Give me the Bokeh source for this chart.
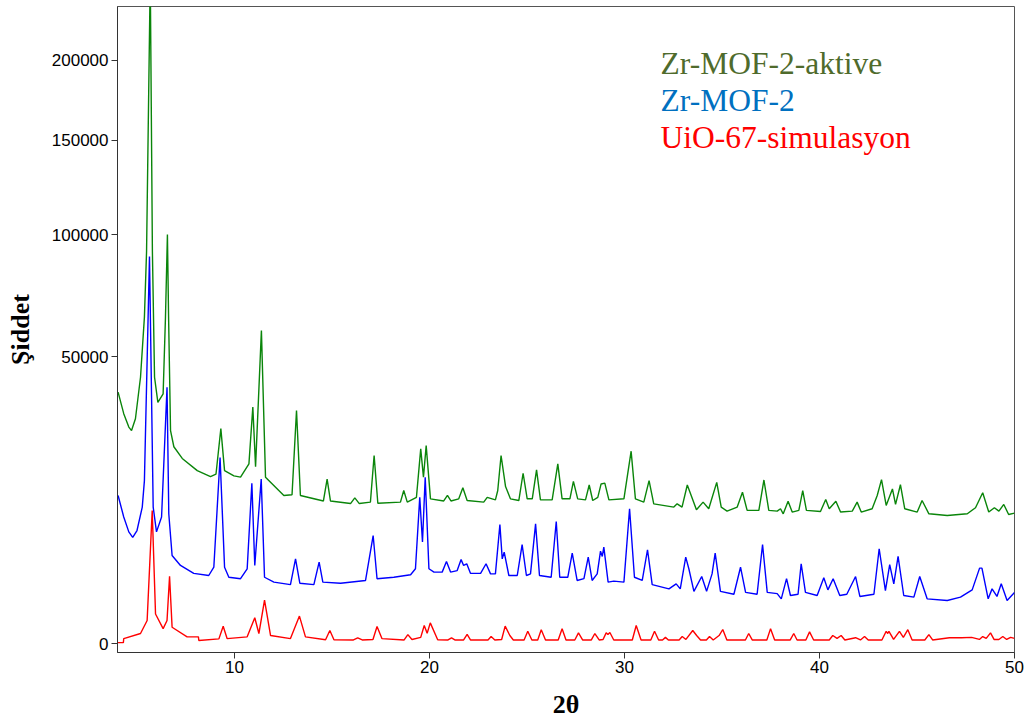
import numpy as np
from bokeh.plotting import figure
from bokeh.models import Range1d, FixedTicker, CustomJSTickFormatter, Label
from bokeh.embed import file_html
from bokeh.resources import INLINE

# power-law (≈ square-root) intensity axis used by the original chart
POW = 0.512

# ---------------- data (2θ, intensity) ----------------
aktive_x = [4.03, 4.32, 4.58, 4.72, 4.92, 5.18, 5.38, 5.49, 5.68, 5.79, 5.90, 6.07, 6.34, 6.46, 6.56,
            6.62, 6.72, 6.89, 7.32, 8.09, 8.77, 9.05, 9.30, 9.49, 9.97, 10.31, 10.74, 10.94, 11.08,
            11.38, 11.59, 12.53, 12.95, 13.18, 13.38, 14.56, 14.75, 14.92, 15.95, 16.17, 16.40,
            16.97, 17.16, 17.35, 18.51, 18.68, 18.86, 19.33, 19.55, 19.69, 19.83, 20.05, 20.73,
            20.92, 21.10, 21.50, 21.71, 21.93, 22.78, 22.96, 23.38, 23.50, 23.67, 23.90, 24.15,
            24.58, 24.80, 25.01, 25.27, 25.49, 25.69, 26.29, 26.58, 26.80, 27.20, 27.38, 27.60,
            28.00, 28.19, 28.37, 28.63, 28.80, 28.99, 29.20, 29.97, 30.34, 30.56, 30.99, 31.26,
            31.50, 32.53, 32.70, 32.95, 33.22, 33.42, 33.69, 34.03, 34.32, 34.73, 34.96, 35.26,
            35.78, 36.05, 36.29, 36.89, 37.15, 37.40, 37.83, 38.00, 38.14, 38.39, 38.60, 38.94,
            39.14, 39.33, 40.05, 40.32, 40.50, 40.84, 41.08, 41.68, 41.93, 42.14, 42.70, 42.96,
            43.18, 43.42, 43.74, 43.90, 44.15, 44.37, 45.01, 45.26, 45.61, 46.55, 47.58, 48.00,
            48.37, 48.68, 48.97, 49.20, 49.45, 49.70, 50.00]
aktive_y = [38700, 32500, 28900, 28000, 31100, 43300, 64400, 92000, 260000, 92000, 43300, 35700, 38200,
            64400, 100000, 64400, 28000, 24000, 21300, 18640, 17400, 17900, 28500, 18640, 17550,
            17300, 20100, 34350, 19480, 59400, 17300, 13780, 13900, 33400, 13780, 12800, 16900,
            12800, 12350, 13350, 12350, 12600, 21960, 12400, 12600, 14690, 12600, 13450, 23500,
            17300, 24280, 13180, 12800, 13780, 12800, 13180, 15200, 12880, 12600, 13450, 13000,
            14690, 21960, 15450, 13180, 12880, 18100, 13180, 13180, 18800, 13000, 13000, 20100,
            13180, 13180, 16450, 13180, 13000, 15750, 12880, 13450, 15950, 16100, 13000, 13180,
            22950, 13180, 12600, 16600, 12300, 11750, 12300, 11750, 15750, 13780, 11300, 12600,
            11480, 16250, 11750, 11080, 11750, 14380, 11200, 11200, 16730, 11200, 11080, 11480,
            10650, 12750, 10930, 11200, 14690, 11200, 11030, 13060, 11480, 12750, 10930, 11080,
            12600, 10930, 11480, 13780, 16800, 12030, 15000, 12200, 15800, 11480, 10930, 12880,
            10650, 10390, 10650, 11650, 14280, 10930, 11650, 11080, 12200, 10540, 10750]

mof_x = [4.03, 4.32, 4.58, 4.78, 5.00, 5.27, 5.38, 5.64, 5.83, 6.00, 6.26, 6.54, 6.63, 6.80, 7.23,
         7.91, 8.68, 8.94, 9.26, 9.49, 9.71, 10.31, 10.65, 10.89, 11.04, 11.37, 11.54, 12.02, 12.87,
         13.13, 13.35, 14.07, 14.34, 14.53, 15.44, 16.72, 17.11, 17.31, 18.17, 19.03, 19.28, 19.50,
         19.64, 19.78, 19.97, 20.23, 20.65, 20.87, 21.08, 21.42, 21.62, 21.75, 21.91, 22.10, 22.62,
         22.90, 23.13, 23.38, 23.61, 23.73, 23.83, 24.07, 24.50, 24.75, 24.97, 25.18, 25.44, 25.64,
         26.24, 26.50, 26.68, 27.09, 27.32, 27.57, 27.92, 28.14, 28.34, 28.60, 28.77, 28.86, 28.94,
         29.16, 29.45, 29.97, 30.26, 30.51, 30.91, 31.18, 31.42, 32.28, 32.65, 32.86, 33.14, 33.30,
         33.56, 33.96, 34.21, 34.49, 34.65, 34.92, 35.61, 35.95, 36.21, 36.80, 37.08, 37.32, 37.83,
         38.04, 38.31, 38.51, 38.90, 39.06, 39.28, 39.88, 40.22, 40.43, 40.70, 41.04, 41.40, 41.85,
         42.07, 42.79, 43.06, 43.38, 43.60, 43.81, 44.03, 44.32, 44.84, 45.14, 45.52, 46.55, 47.23,
         47.83, 48.21, 48.33, 48.65, 48.85, 49.10, 49.32, 49.62, 50.00]
mof_y = [13780, 10150, 7950, 7200, 8140, 11750, 16600, 89800, 11750, 7950, 10150, 40200, 10650, 5000,
         3960, 3220, 3030, 3790, 21500, 3790, 2880, 2760, 3640, 16080, 3960, 16900, 2880, 2480, 2290,
         4640, 2400, 2290, 4290, 2480, 2400, 2615, 7450, 2760, 2880, 3090, 3640, 13450, 6600, 17300,
         3640, 3330, 3330, 4360, 3330, 3470, 4560, 3960, 4130, 3220, 3220, 4130, 3170, 3170, 9000,
         4640, 5380, 3030, 3030, 6290, 3030, 3170, 9100, 3030, 2880, 9450, 2880, 2880, 5260, 2615,
         2760, 4820, 2615, 3170, 5500, 4900, 5970, 2480, 2560, 2480, 11480, 2880, 2615, 5660, 2290,
         1980, 2350, 1980, 4820, 3640, 1810, 2940, 1810, 3170, 5260, 1810, 1620, 3790, 1740, 1620,
         6290, 1740, 1660, 1340, 2760, 1540, 1620, 4130, 1740, 1540, 2840, 1910, 2760, 1540, 1620,
         2940, 1480, 1620, 5780, 1865, 4040, 2350, 4900, 1540, 1440, 2940, 1340, 1243, 1440, 1910,
         3700, 3700, 1340, 1980, 1480, 2350, 1243, 1740]

sim_x = [4.00, 4.30, 4.32, 5.18, 5.52, 5.78, 5.95, 6.34, 6.54, 6.67, 6.80, 7.57, 8.15, 8.17, 9.20,
         9.42, 9.62, 10.65, 11.04, 11.25, 11.54, 11.85, 12.87, 13.33, 13.64, 14.67, 14.89, 15.10,
         16.10, 16.32, 16.55, 17.10, 17.31, 17.56, 18.70, 18.89, 19.10, 19.55, 19.73, 19.88, 20.04,
         20.42, 20.95, 21.13, 21.30, 21.75, 21.93, 22.10, 23.00, 23.16, 23.35, 23.70, 23.88, 24.12,
         24.30, 24.85, 25.04, 25.25, 25.55, 25.73, 25.95, 26.60, 26.80, 27.00, 27.45, 27.64, 27.85,
         28.30, 28.48, 28.70, 28.90, 29.06, 29.15, 29.25, 29.45, 30.40, 30.60, 30.85, 31.35, 31.54,
         31.75, 31.95, 32.10, 32.25, 32.80, 32.96, 33.15, 33.50, 33.70, 33.90, 34.20, 34.36, 34.55,
         34.85, 35.04, 35.25, 36.20, 36.37, 36.55, 37.30, 37.49, 37.70, 38.50, 38.68, 38.85, 39.30,
         39.49, 39.70, 40.50, 40.68, 40.90, 41.11, 41.30, 41.85, 42.10, 42.31, 42.50, 43.20, 43.42,
         43.50, 43.56, 43.80, 44.10, 44.30, 44.53, 44.75, 45.40, 45.61, 45.80, 46.66, 47.28, 47.80,
         48.20, 48.37, 48.55, 48.77, 48.95, 49.20, 49.40, 49.60, 49.80, 50.00]
sim_y = [1, 1, 20, 75, 372, 11200, 600, 160, 372, 2970, 190, 35, 35, 8, 18,
         215, 20, 35, 460, 75, 1270, 49, 20, 520, 35, 12, 124, 12,
         11, 25, 11, 14, 207, 20, 11, 60, 14, 30, 231, 80, 300,
         12, 11, 25, 11, 11, 62, 11, 11, 38, 11, 14, 215, 49,
         11, 11, 110, 11, 11, 140, 11, 11, 160, 11, 11, 85, 11,
         11, 75, 11, 14, 85, 62, 90, 11, 11, 231, 11, 11, 110,
         11, 11, 30, 11, 11, 38, 14, 124, 49, 11, 11, 38, 11,
         49, 143, 11, 11, 75, 11, 11, 160, 11, 11, 75, 11, 11,
         100, 11, 11, 49, 21, 49, 11, 27, 11, 38, 11, 11, 110,
         75, 110, 14, 110, 30, 140, 11, 11, 60, 11, 27, 27, 30,
         14, 38, 21, 85, 14, 14, 38, 14, 30, 21]

x_ticks = [10, 20, 30, 40, 50]
y_ticks = [0, 50000, 100000, 150000, 200000]

series_names = ["Zr-MOF-2-aktive", "Zr-MOF-2", "UiO-67-simulasyon"]
line_colors = ["#0a850a", "#0000ff", "#ff0000"]
text_colors = ["#4f6b2c", "#0070c0", "#ff0000"]

# ---------------- figure ----------------
p = figure(width=1024, height=722, output_backend="svg", toolbar_location=None,
           x_range=Range1d(4, 50), y_range=Range1d(-7.72, 565.5),
           min_border_left=117, min_border_right=10, min_border_top=6, min_border_bottom=70,
           background_fill_color="white", border_fill_color="white")
p.grid.visible = False
p.outline_line_color = "#555555"
p.outline_line_width = 1

for xs, ys, c in [(aktive_x, aktive_y, line_colors[0]),
                  (mof_x, mof_y, line_colors[1]),
                  (sim_x, sim_y, line_colors[2])]:
    p.line(xs, np.power(np.array(ys, dtype=float), POW), line_color=c, line_width=1.4)

# axes
p.xaxis.ticker = FixedTicker(ticks=x_ticks)
p.yaxis.ticker = FixedTicker(ticks=[v ** POW for v in y_ticks])
p.yaxis.formatter = CustomJSTickFormatter(
    code="return (Math.round(Math.pow(tick, 1/0.512)/1000)*1000).toString();")
for ax in (p.xaxis, p.yaxis):
    ax.minor_tick_line_color = None
    ax.major_tick_in = 0
    ax.major_tick_out = 6
    ax.axis_line_color = "#333333"
    ax.major_tick_line_color = "#333333"
    ax.major_label_text_font = "Liberation Sans"
    ax.major_label_text_font_size = "17px"
    ax.major_label_text_color = "black"
    ax.axis_label_text_font = "Liberation Serif"
    ax.axis_label_text_font_style = "bold"
    ax.axis_label_text_font_size = "26px"
    ax.axis_label_text_color = "black"
p.xaxis.major_label_standoff = 2
p.yaxis.major_label_standoff = 3
p.xaxis.axis_label = "2θ"
p.yaxis.axis_label = "Şiddet"
p.xaxis.axis_label_standoff = 14
p.yaxis.axis_label_standoff = 14

# legend texts
for i, (name, col) in enumerate(zip(series_names, text_colors)):
    p.add_layout(Label(x=31.85, y=515.0 - 32.8 * i, text=name, text_color=col,
                       text_font="Liberation Serif", text_font_size="31.5px",
                       text_baseline="alphabetic", text_align="left"))

open("out.html", "w").write(file_html(p, INLINE))
